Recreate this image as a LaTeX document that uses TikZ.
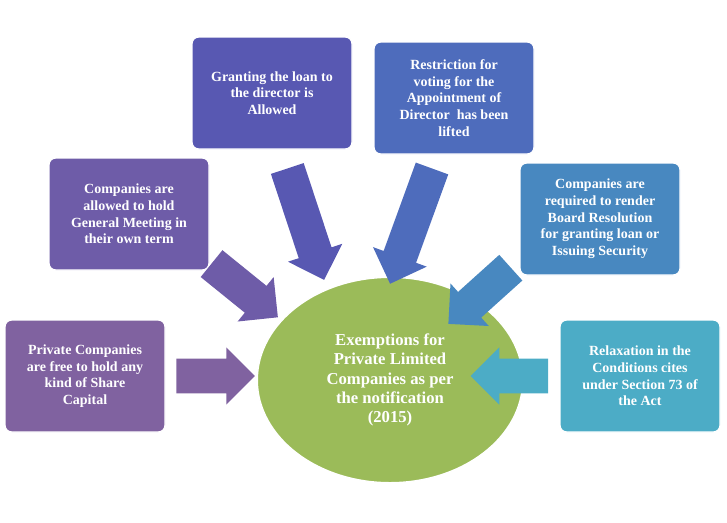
\documentclass[tikz,border=0pt]{standalone}
\usepackage{fontspec}
\setmainfont{Liberation Serif}
\usetikzlibrary{shapes.arrows,shapes.geometric}
\definecolor{c1}{RGB}{128,98,160}
\definecolor{c2}{RGB}{110,92,168}
\definecolor{c3}{RGB}{88,88,178}
\definecolor{c4}{RGB}{78,108,188}
\definecolor{c5}{RGB}{72,136,192}
\definecolor{c6}{RGB}{76,172,198}
\definecolor{cg}{RGB}{155,187,89}
\begin{document}
\begin{tikzpicture}[x=0.75pt,y=-0.75pt,
 box/.style={draw=white,line width=1pt,rounded corners=5pt,minimum width=120pt,minimum height=84pt,align=center,text=white,font=\bfseries\fontsize{10.5}{12.5}\selectfont},
 arr/.style={single arrow,draw=none,inner sep=0pt,minimum width=42pt,single arrow head extend=8.5pt}]
\useasboundingbox (0,0) rectangle (727,522);
\node[ellipse,fill=cg,draw=white,line width=1pt,minimum width=199pt,minimum height=154pt,align=center,text=white,font=\bfseries\fontsize{12.5}{14.5}\selectfont] (c) at (390,380) {Exemptions for\\Private Limited\\Companies as per\\the notification\\(2015)};
\node[box,fill=c1] (b1) at (85,376) {Private Companies\\are free to hold any\\kind of Share\\Capital};
\node[box,fill=c2] (b2) at (129,214) {Companies are\\allowed to hold\\General Meeting in\\their own term};
\node[box,fill=c3] (b3) at (272,93) {Granting the loan to\\the director is\\Allowed};
\node[box,fill=c4] (b4) at (454,98) {Restriction for\\voting for the\\Appointment of\\Director\ \ has been\\lifted};
\node[box,fill=c5] (b5) at (600,219) {Companies are\\required to render\\Board Resolution\\for granting loan or\\Issuing Security};
\node[box,fill=c6] (b6) at (640,376) {Relaxation in the\\Conditions cites\\under Section 73 of\\the Act};
\node[arr,fill=c1,minimum height=59pt] (a1) at (207,376) {\rule{0pt}{25.5pt}};
\node[arr,fill=c2,minimum height=64pt,rotate=-39] (a2) at (238,285) {\rule{0pt}{25.5pt}};
\node[arr,fill=c3,minimum height=88pt,rotate=-71.7] (a3) at (303,216) {\rule{0pt}{25.5pt}};
\node[arr,fill=c4,minimum height=92pt,rotate=-110] (a4) at (414,218) {\rule{0pt}{25.5pt}};
\node[arr,fill=c5,minimum height=63pt,rotate=-138] (a5) at (486,290) {\rule{0pt}{25.5pt}};
\node[arr,fill=c6,minimum height=58pt,rotate=180] (a6) at (518,376) {\rule{0pt}{25.5pt}};
\end{tikzpicture}
\end{document}
